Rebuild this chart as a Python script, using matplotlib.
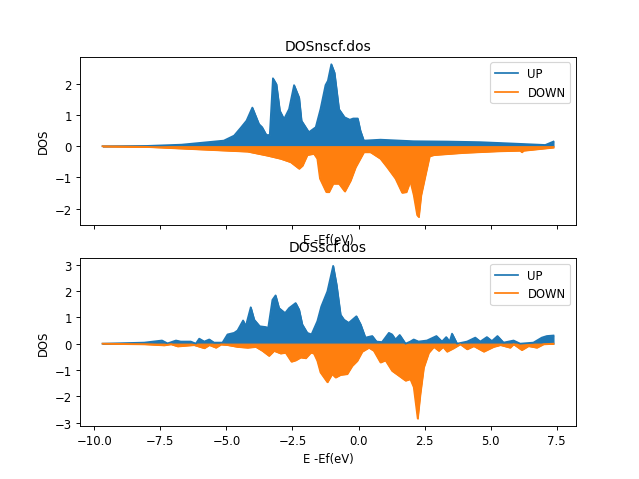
import matplotlib
matplotlib.use('Agg')
import matplotlib.pyplot as plt
import numpy as np

# DOSnscf.dos
e_up_nscf = [-9.69, -8.0, -6.7, -5.1, -4.71, -4.46, -4.24, -4.02, -3.77, -3.65, -3.49, -3.36,
             -3.24, -3.11, -2.98, -2.82, -2.63, -2.44, -2.25, -2.16, -1.88, -1.62, -1.44,
             -1.25, -1.16, -1.03, -0.91, -0.74, -0.53, -0.33, -0.2, -0.03, 0.07, 0.2, 0.83,
             2.09, 3.35, 4.61, 5.87, 7.07, 7.38]
up_nscf = [0.0, 0.01, 0.05, 0.18, 0.34, 0.59, 0.82, 1.24, 0.71, 0.61, 0.36, 0.36,
           2.18, 1.99, 1.14, 0.87, 1.19, 1.96, 1.56, 0.82, 0.45, 0.61, 1.19,
           1.96, 2.1, 2.63, 2.36, 1.19, 0.93, 0.85, 0.89, 0.89, 0.5, 0.18, 0.21,
           0.16, 0.15, 0.13, 0.085, 0.04, 0.15]

e_dn_nscf = [-9.69, -8.0, -5.47, -4.2, -3.45, -2.95, -2.57, -2.25, -2.12, -1.94, -1.69, -1.56,
             -1.46, -1.22, -1.12, -0.96, -0.74, -0.52, -0.3, -0.11, 0.2, 0.45, 0.83, 1.08,
             1.4, 1.65, 1.81, 1.96, 2.09, 2.22, 2.28, 2.37, 2.53, 2.69, 2.85, 3.98, 5.24,
             6.12, 6.18, 6.25, 7.38]
dn_nscf = [0.0, -0.02, -0.12, -0.17, -0.3, -0.4, -0.51, -0.72, -0.62, -0.28, -0.24, -0.4,
           -1.04, -1.47, -1.47, -1.2, -1.2, -1.45, -1.1, -0.67, -0.19, -0.19, -0.4, -0.67,
           -1.04, -1.49, -1.47, -1.12, -1.57, -2.21, -2.27, -1.57, -0.94, -0.32, -0.28, -0.21, -0.16,
           -0.14, -0.19, -0.14, -0.04]

# DOSscf.dos
e_up_scf = [-9.69, -8.11, -7.44, -7.23, -6.91, -6.73, -6.35, -6.16, -6.03, -5.84, -5.65, -5.47,
            -5.15, -4.96, -4.71, -4.58, -4.37, -4.27, -4.08, -3.95, -3.74, -3.51, -3.42,
            -3.26, -3.14, -3.01, -2.78, -2.63, -2.38, -2.25, -2.13, -1.94, -1.78, -1.56,
            -1.41, -1.18, -0.96, -0.83, -0.68, -0.55, -0.37, -0.08, 0.08, 0.26, 0.52, 0.68,
            0.89, 1.15, 1.27, 1.4, 1.56, 1.78, 1.96, 2.09, 2.27, 2.59, 2.95, 3.16, 3.32,
            3.45, 3.54, 3.73, 4.11, 4.42, 4.61, 4.86, 5.05, 5.26, 5.49, 5.87, 6.12, 6.62,
            6.94, 7.13, 7.38]
up_scf = [0.0, 0.04, 0.12, 0.01, 0.12, 0.08, 0.08, 0.0, 0.19, 0.08, 0.16, 0.04,
          0.04, 0.35, 0.41, 0.5, 0.88, 0.66, 1.38, 0.91, 0.66, 0.63, 0.6,
          1.66, 1.83, 1.35, 1.16, 1.35, 1.54, 1.29, 0.73, 0.41, 0.35, 0.85,
          1.41, 1.98, 2.95, 2.23, 1.1, 0.91, 0.79, 1.04, 0.73, 0.23, 0.29, 0.08,
          0.06, 0.41, 0.35, 0.16, 0.33, 0.0, 0.08, 0.16, 0.08, 0.12, 0.29, 0.08, 0.25,
          0.08, 0.38, 0.0, 0.08, 0.23, 0.08, 0.25, 0.1, 0.29, 0.04, 0.12, 0.0, 0.04,
          0.23, 0.29, 0.31]

e_dn_scf = [-9.69, -8.1, -7.36, -7.1, -6.85, -6.23, -5.84, -5.65, -5.4, -5.21, -4.96, -4.58,
            -4.2, -3.89, -3.64, -3.39, -3.2, -2.95, -2.76, -2.54, -2.38, -2.19, -2.0, -1.81,
            -1.69, -1.56, -1.44, -1.18, -1.0, -0.87, -0.68, -0.43, -0.24, -0.05, 0.14, 0.39,
            0.58, 0.83, 1.02, 1.27, 1.52, 1.78, 1.96, 2.09, 2.24, 2.34, 2.47, 2.66, 2.85,
            3.04, 3.2, 3.35, 3.6, 3.85, 4.11, 4.36, 4.74, 5.11, 5.37, 5.74, 5.87, 6.18,
            6.43, 6.75, 7.0, 7.38]
dn_scf = [0.0, -0.02, -0.06, -0.02, -0.1, -0.05, -0.17, -0.05, -0.15, -0.03, -0.05, -0.12,
          -0.15, -0.12, -0.27, -0.46, -0.27, -0.37, -0.34, -0.68, -0.63, -0.52, -0.55, -0.34,
          -0.37, -0.65, -1.09, -1.46, -1.15, -1.28, -1.18, -1.15, -0.84, -0.65, -0.3, -0.15,
          -0.27, -0.71, -0.63, -1.03, -1.21, -1.4, -1.34, -1.65, -2.84, -1.9, -0.9, -0.34, -0.12,
          -0.27, -0.12, -0.3, -0.17, -0.02, -0.21, -0.09, -0.3, -0.12, -0.05, -0.15, -0.02, -0.24,
          -0.09, -0.15, -0.02, 0.0]

# bigger figure at lower dpi -> same 640x480 but smaller text, like the original
fig, axes = plt.subplots(2, 1, sharex=True, figsize=(7.68, 5.76), dpi=250/3)

data = [('DOSnscf.dos', e_up_nscf, up_nscf, e_dn_nscf, dn_nscf),
        ('DOSscf.dos', e_up_scf, up_scf, e_dn_scf, dn_scf)]

for ax, (name, eu, u, ed, d) in zip(axes, data):
    ax.plot(eu, u, label='UP')
    ax.plot(ed, d, label='DOWN')
    ax.fill_between(eu, u, color='C0')
    ax.fill_between(ed, d, color='C1')
    ax.set_title(name)
    ax.set_xlabel('E -Ef(eV)')
    ax.set_ylabel('DOS')
    ax.legend(loc='upper right')

plt.savefig('out.png', dpi=250/3)
